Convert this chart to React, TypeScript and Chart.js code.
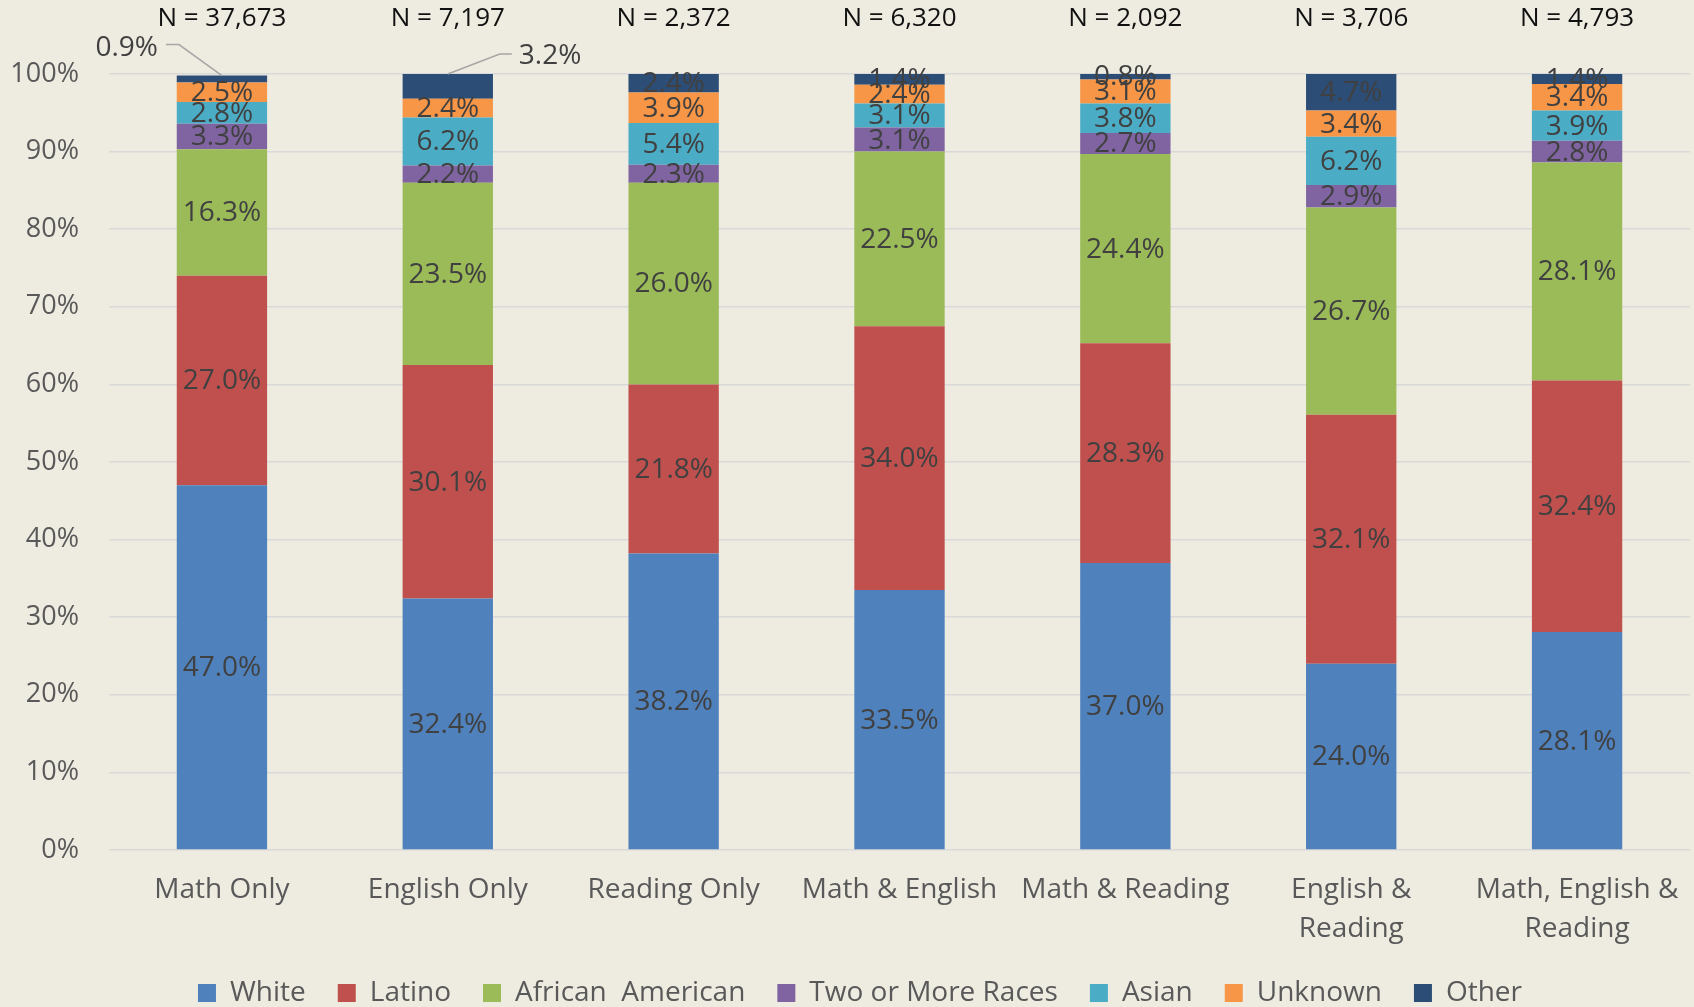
import React, { useEffect, useRef } from "react";
import { Chart, registerables } from "chart.js";

Chart.register(...registerables);

const categories: (string | string[])[] = [
  "Math Only",
  "English Only",
  "Reading Only",
  "Math & English",
  "Math & Reading",
  ["English &", "Reading"],
  ["Math, English &", "Reading"],
];
const nLabels = ["N = 37,673", "N = 7,197", "N = 2,372", "N = 6,320", "N = 2,092", "N = 3,706", "N = 4,793"];

const white = [47.0, 32.4, 38.2, 33.5, 37.0, 24.0, 28.1];
const latino = [27.0, 30.1, 21.8, 34.0, 28.3, 32.1, 32.4];
const africanAmerican = [16.3, 23.5, 26.0, 22.5, 24.4, 26.7, 28.1];
const twoOrMore = [3.3, 2.2, 2.3, 3.1, 2.7, 2.9, 2.8];
const asian = [2.8, 6.2, 5.4, 3.1, 3.8, 6.2, 3.9];
const unknown = [2.5, 2.4, 3.9, 2.4, 3.1, 3.4, 3.4];
const other = [0.9, 3.2, 2.4, 1.4, 0.8, 4.7, 1.4];

const seriesNames = ["White", "Latino", "African  American", "Two or More Races", "Asian", "Unknown", "Other"];
const seriesData = [white, latino, africanAmerican, twoOrMore, asian, unknown, other];
const seriesColors = ["#4F81BD", "#C0504D", "#9BBB59", "#8064A2", "#4BACC6", "#F79646", "#2C4D75"];

const yTicks = [0, 10, 20, 30, 40, 50, 60, 70, 80, 90, 100];

const BG = "#EEEBE0";
const FONT = "'Open Sans', 'Liberation Sans', sans-serif";
const LEGEND_PAD = 32;
const LEGEND_SHIFT = 15;

const bgPlugin = {
  id: "bg",
  beforeDraw(chart: any) {
    const { ctx, width, height } = chart;
    ctx.save();
    ctx.fillStyle = BG;
    ctx.fillRect(0, 0, width, height);
    ctx.restore();
  },
};

const legendShiftPlugin = {
  id: "legendShift",
  afterLayout(chart: any) {
    const lg = chart.legend;
    if (lg) {
      lg.left += LEGEND_SHIFT;
      lg.right += LEGEND_SHIFT;
    }
  },
};

const labelPlugin = {
  id: "labels",
  afterDatasetsDraw(chart: any) {
    const { ctx } = chart;
    const xScale = chart.scales.x;
    ctx.save();
    // N labels
    ctx.font = `26px ${FONT}`;
    ctx.fillStyle = "#111";
    ctx.textAlign = "center";
    ctx.textBaseline = "middle";
    nLabels.forEach((t, i) => {
      ctx.fillText(t, xScale.getPixelForValue(i), 19);
    });

    ctx.font = `28px ${FONT}`;
    ctx.fillStyle = "#404040";
    chart.data.datasets.forEach((ds: any, di: number) => {
      const meta = chart.getDatasetMeta(di);
      meta.data.forEach((el: any, i: number) => {
        const v = ds.data[i];
        const text = v.toFixed(1) + "%";
        const isOther = di === seriesData.length - 1;
        if (isOther && i === 0) {
          ctx.strokeStyle = "#A6A6A6";
          ctx.lineWidth = 1.5;
          ctx.beginPath();
          ctx.moveTo(el.x, el.y);
          ctx.lineTo(el.x - 43, el.y - 31);
          ctx.lineTo(el.x - 56, el.y - 31);
          ctx.stroke();
          ctx.textAlign = "right";
          ctx.fillText(text, el.x - 64, el.y - 28);
          return;
        }
        if (isOther && i === 1) {
          ctx.strokeStyle = "#A6A6A6";
          ctx.lineWidth = 1.5;
          ctx.beginPath();
          ctx.moveTo(el.x, el.y);
          ctx.lineTo(el.x + 52, el.y - 20);
          ctx.lineTo(el.x + 64, el.y - 20);
          ctx.stroke();
          ctx.textAlign = "left";
          ctx.fillText(text, el.x + 71, el.y - 18);
          return;
        }
        ctx.textAlign = "center";
        ctx.fillText(text, el.x, (el.y + el.base) / 2 + 1);
      });
    });
    ctx.restore();
  },
};

export default function App() {
  const canvasRef = useRef<HTMLCanvasElement | null>(null);

  useEffect(() => {
    if (!canvasRef.current) return;
    const chart = new Chart(canvasRef.current, {
      type: "bar",
      data: {
        labels: categories as any,
        datasets: seriesNames.map((name, i) => ({
          label: name,
          data: seriesData[i],
          backgroundColor: seriesColors[i],
          borderWidth: 0,
          categoryPercentage: 1,
          barPercentage: 0.4,
        })),
      },
      options: {
        animation: false,
        responsive: true,
        maintainAspectRatio: false,
        layout: { padding: { top: 74, right: 4, left: 0, bottom: -10 } },
        plugins: {
          tooltip: { enabled: false },
          legend: {
            position: "bottom",
            labels: {
              boxWidth: 18,
              boxHeight: 18,
              padding: LEGEND_PAD,
              color: "#595959",
              font: { size: 28, family: FONT },
            },
          },
        },
        scales: {
          x: {
            stacked: true,
            grid: { display: false, drawTicks: false },
            border: { display: false },
            ticks: {
              color: "#595959",
              padding: 21,
              maxRotation: 0,
              autoSkip: false,
              font: { size: 28, family: FONT, lineHeight: 39 / 28 },
            },
            afterFit(scale: any) {
              scale.height = 129 - LEGEND_PAD;
              scale.paddingLeft = 0;
              scale.paddingRight = 0;
            },
          },
          y: {
            stacked: true,
            min: 0,
            max: 100,
            grid: { color: "#D9D9D9", lineWidth: 1.5, drawTicks: false },
            border: { display: false },
            afterBuildTicks(scale: any) {
              scale.ticks = yTicks.map((v) => ({ value: v }));
            },
            ticks: {
              color: "#595959",
              padding: 30,
              font: { size: 27, family: FONT },
              callback: (v: any) => v + "%",
            },
            afterFit(scale: any) {
              scale.width = 109;
            },
          },
        },
      },
      plugins: [bgPlugin, legendShiftPlugin, labelPlugin],
    });
    return () => chart.destroy();
  }, []);

  return (
    <div style={{ position: "fixed", left: 0, top: 0, width: 1694, height: 1007, background: BG }}>
      <canvas ref={canvasRef} />
    </div>
  );
}
